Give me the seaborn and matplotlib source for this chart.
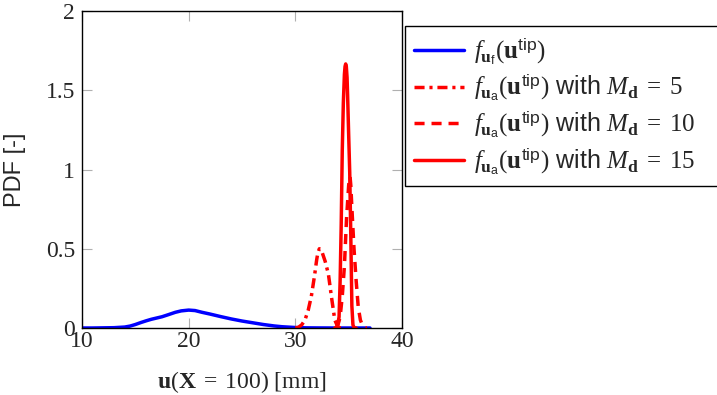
import matplotlib
matplotlib.use("Agg")
import matplotlib.pyplot as plt
import seaborn as sns

# values
u_f = [10, 11, 12, 13, 14, 14.5, 15, 15.5, 16, 16.5, 17, 17.5, 18, 18.75, 19.3, 20,
       20.6, 21.25, 22, 23, 24, 25, 26, 27, 28, 28.75, 29.5, 30, 31, 32, 34, 37]
pdf_f = [0, 0, 0.001, 0.002, 0.006, 0.012, 0.022, 0.034, 0.045, 0.055, 0.063, 0.071,
         0.082, 0.099, 0.108, 0.113, 0.11, 0.099, 0.088, 0.072, 0.057, 0.044, 0.033,
         0.022, 0.013, 0.008, 0.005, 0.003, 0.001, 0.0005, 0, 0]

u_m5 = [30.0, 30.3, 30.6, 30.9, 31.2, 31.5, 31.8, 32.0, 32.1, 32.25, 32.4, 32.5,
        32.8, 33.1, 33.4, 33.7, 34.0, 34.3]
pdf_m5 = [0, 0.005, 0.02, 0.05, 0.11, 0.2, 0.33, 0.43, 0.47, 0.50, 0.495, 0.48,
          0.42, 0.34, 0.19, 0.05, 0.005, 0]

u_m10 = [33.8, 34.0, 34.2, 34.4, 34.6, 34.8, 35.0, 35.07, 35.13, 35.2, 35.3, 35.5,
         35.7, 35.9, 36.1, 36.3, 36.5, 36.7]
pdf_m10 = [0, 0.02, 0.07, 0.2, 0.39, 0.69, 0.9, 0.94, 0.955, 0.9, 0.76, 0.5,
           0.3, 0.13, 0.05, 0.015, 0.002, 0]

u_m15 = [33.7, 33.9, 34.0, 34.1, 34.2, 34.3, 34.4, 34.5, 34.6, 34.66, 34.72, 34.78,
         34.85, 34.9, 35.0, 35.1, 35.2, 35.3, 35.4, 35.5, 35.7]
pdf_m15 = [0, 0.005, 0.03, 0.07, 0.3, 0.65, 1.12, 1.42, 1.6, 1.65, 1.666, 1.65,
           1.58, 1.47, 1.22, 0.98, 0.58, 0.14, 0.02, 0.003, 0]

x_ticks = [10, 20, 30, 40]
x_tick_labels = ["10", "20", "30", "40"]
y_ticks = [0, 0.5, 1, 1.5, 2]
y_tick_labels = ["0", "0.5", "1", "1.5", "2"]

labels = [
    r"$f_{\mathbf{u}_{\mathsf{f}}}(\mathbf{u}^{\mathsf{tip}})$",
    r"$f_{\mathbf{u}_{\mathsf{a}}}(\mathbf{u}^{\mathsf{tip}})$ with $M_{\mathbf{d}}\;=\;5$",
    r"$f_{\mathbf{u}_{\mathsf{a}}}(\mathbf{u}^{\mathsf{tip}})$ with $M_{\mathbf{d}}\;=\;10$",
    r"$f_{\mathbf{u}_{\mathsf{a}}}(\mathbf{u}^{\mathsf{tip}})$ with $M_{\mathbf{d}}\;=\;15$",
]

sns.set_style("white")
plt.rcParams["mathtext.fontset"] = "custom"
plt.rcParams["mathtext.rm"] = "Liberation Serif"
plt.rcParams["mathtext.it"] = "Liberation Serif:italic"
plt.rcParams["mathtext.bf"] = "Liberation Serif:bold"
plt.rcParams["mathtext.sf"] = "Liberation Sans"
plt.rcParams["font.family"] = ["Liberation Sans", "DejaVu Sans"]

fig = plt.figure(figsize=(7.17, 3.95), dpi=100)
ax = fig.add_axes([82 / 717, 1 - 328 / 395, 320 / 717, 317 / 395])

lw = 2.5
sns.lineplot(x=u_f, y=pdf_f, color="blue", lw=lw, label=labels[0], ax=ax)
sns.lineplot(x=u_m5, y=pdf_m5, color="red", lw=lw, label=labels[1], ax=ax,
             linestyle=(0, (2.9, 1.4, 0.9, 1.4)))
sns.lineplot(x=u_m10, y=pdf_m10, color="red", lw=lw, label=labels[2], ax=ax,
             linestyle=(0, (2.9, 2.0)))
sns.lineplot(x=u_m15, y=pdf_m15, color="red", lw=lw, label=labels[3], ax=ax)

ax.set_xlim(10, 40)
ax.set_ylim(0, 2)
ax.set_xticks(x_ticks)
ax.set_xticklabels(x_tick_labels, family="Liberation Serif", fontsize=17)
ax.set_yticks(y_ticks)
ax.set_yticklabels(y_tick_labels, family="Liberation Serif", fontsize=17)
ax.tick_params(direction="in", length=7.5, width=0.8, color="#b0b0b0",
               top=True, right=True, bottom=True, left=True)
ax.tick_params(axis="x", pad=2)
ax.tick_params(axis="y", pad=5)
for s in ax.spines.values():
    s.set_color("black")
    s.set_linewidth(1.0)

ax.set_ylabel("PDF [-]", fontsize=17, family="Liberation Sans")
ax.yaxis.set_label_coords(-0.175, 0.5)
ax.set_xlabel(r"$\mathbf{u}(\mathbf{X}\;=\;100)$ [mm]", fontsize=17, family="Liberation Serif")
ax.xaxis.set_label_coords(0.5, -0.13)

leg = ax.legend(loc="upper left", bbox_to_anchor=(405 / 717, 1 - 26 / 395, 0.5, 0),
                bbox_transform=fig.transFigure, mode="expand", borderaxespad=0,
                fontsize=18, handlelength=2.0, handletextpad=0.4, labelspacing=0.2,
                borderpad=0.35, fancybox=False, framealpha=1, edgecolor="black")
leg.get_frame().set_linewidth(1.0)

fig.savefig("out.png", dpi=100)
